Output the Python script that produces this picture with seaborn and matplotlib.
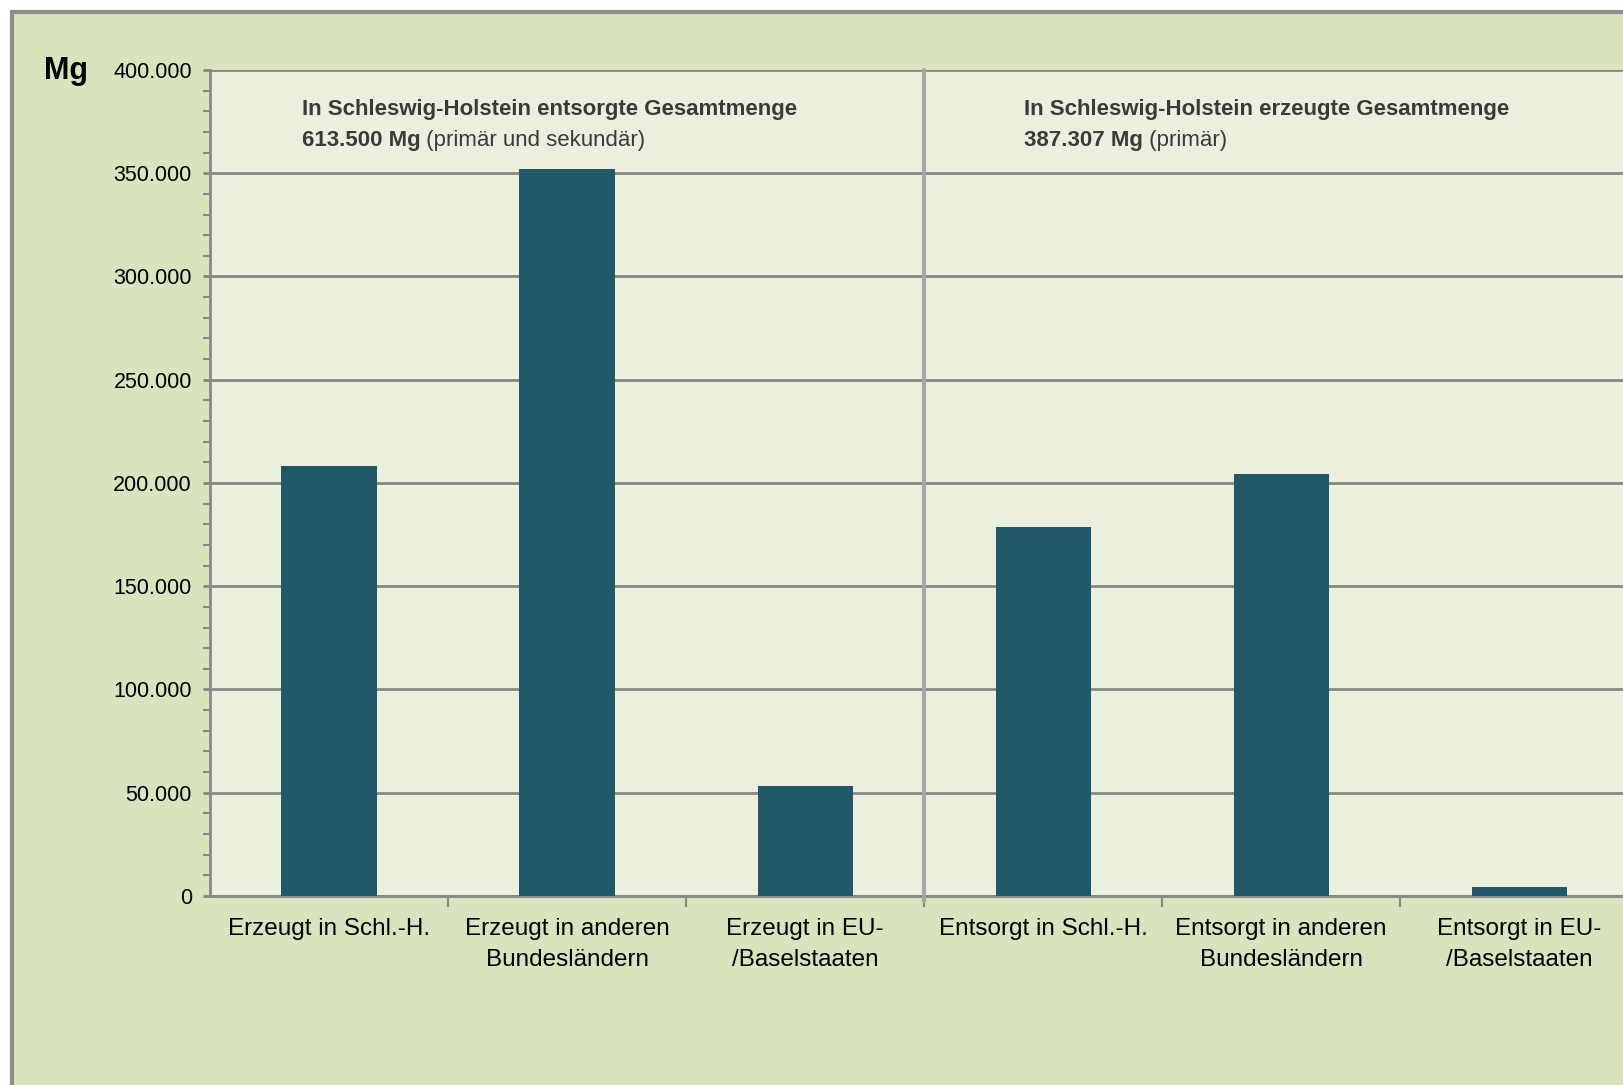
import matplotlib
matplotlib.use("Agg")
import matplotlib.pyplot as plt
import matplotlib.ticker as mticker
from matplotlib.patches import Rectangle
import seaborn as sns
import pandas as pd

# Daten
kategorien = [
    "Erzeugt in Schl.-H.",
    "Erzeugt in anderen\nBundesländern",
    "Erzeugt in EU-\n/Baselstaaten",
    "Entsorgt in Schl.-H.",
    "Entsorgt in anderen\nBundesländern",
    "Entsorgt in EU-\n/Baselstaaten",
]
mengen_mg = [208000, 352000, 53500, 178500, 204500, 4300]

titel_links = "In Schleswig-Holstein entsorgte Gesamtmenge"
summe_links = "613.500 Mg"
zusatz_links = " (primär und sekundär)"
titel_rechts = "In Schleswig-Holstein erzeugte Gesamtmenge"
summe_rechts = "387.307 Mg"
zusatz_rechts = " (primär)"

BALKEN = "#215868"
HG_AUSSEN = "#D7E4BD"
HG_PLOT = "#EBF0DE"
GRAU = "#878787"

sns.set_theme(style="white")
plt.rcParams["font.family"] = ["Liberation Sans", "DejaVu Sans"]
plt.rcParams["text.color"] = "black"

df = pd.DataFrame({"kategorie": kategorien, "menge": mengen_mg})

fig = plt.figure(figsize=(16.23, 10.85), dpi=100)
fig.patch.set_facecolor("white")
# äußerer Rahmen
rahmen = Rectangle((0.0075, -0.05), 1.05, 0.99 + 0.05 - 0.0015,
                   transform=fig.transFigure, facecolor=HG_AUSSEN,
                   edgecolor="#8C8C8C", linewidth=3, zorder=-10)
fig.add_artist(rahmen)

ax = fig.add_axes([0.1294, 0.1742, 0.880, 0.7613])
ax.set_facecolor(HG_PLOT)

sns.barplot(data=df, x="kategorie", y="menge", color=BALKEN, width=0.4,
            saturation=1, linewidth=0, ax=ax, zorder=3)

ax.set_xlim(-0.5, 5.5)
ax.set_ylim(0, 400000)
ax.set_xlabel("")
ax.set_ylabel("")

# Gitter
ax.yaxis.set_major_locator(mticker.MultipleLocator(50000))
ax.yaxis.set_minor_locator(mticker.MultipleLocator(10000))
ax.grid(axis="y", which="major", color=GRAU, linewidth=2, zorder=1)
ax.set_axisbelow(True)
ax.yaxis.set_major_formatter(mticker.FuncFormatter(
    lambda v, p: f"{int(v):,}".replace(",", ".")))

for s in ["top", "right"]:
    ax.spines[s].set_visible(False)
for s in ["left", "bottom"]:
    ax.spines[s].set_color(GRAU)
    ax.spines[s].set_linewidth(2)

ax.tick_params(axis="y", which="major", direction="out", length=5, width=2,
               color=GRAU, left=True, pad=8, labelsize=15.5, labelcolor="black")
ax.tick_params(axis="y", which="minor", direction="out", length=5, width=1.5,
               color=GRAU, left=True)

ax.xaxis.set_minor_locator(mticker.FixedLocator([0.5, 1.5, 2.5, 3.5, 4.5, 5.5]))
ax.tick_params(axis="x", which="major", length=0, pad=16, labelsize=17.5,
               labelcolor="black")
ax.tick_params(axis="x", which="minor", direction="out", length=8, width=1.5,
               color=GRAU, bottom=True)
for lbl in ax.get_xticklabels():
    lbl.set_linespacing(1.5)

# Trennlinie zwischen den Gruppen
ax.axvline(2.5, ymin=-0.006, ymax=1, color="#A6A6A6", linewidth=3,
           clip_on=False, zorder=4)

# Einheit
fig.text(0.027, 0.935, "Mg", fontsize=22, fontweight="bold", color="black",
         va="center", ha="left")

# Beschriftungen der Gruppen
farbe_text = "#3A3A3A"
for x, t, s, z in [(-0.115, titel_links, summe_links, zusatz_links),
                   (2.92, titel_rechts, summe_rechts, zusatz_rechts)]:
    ax.text(x, 381000, t, fontsize=16, fontweight="bold", color=farbe_text,
            va="center", ha="left")
    t2 = ax.text(x, 366000, s, fontsize=16, fontweight="bold",
                 color=farbe_text, va="center", ha="left")
    ax.annotate(z, xy=(1, 0), xycoords=t2, fontsize=16, color=farbe_text,
                va="bottom", ha="left")

fig.savefig("out.png", dpi=100, facecolor=fig.get_facecolor())
